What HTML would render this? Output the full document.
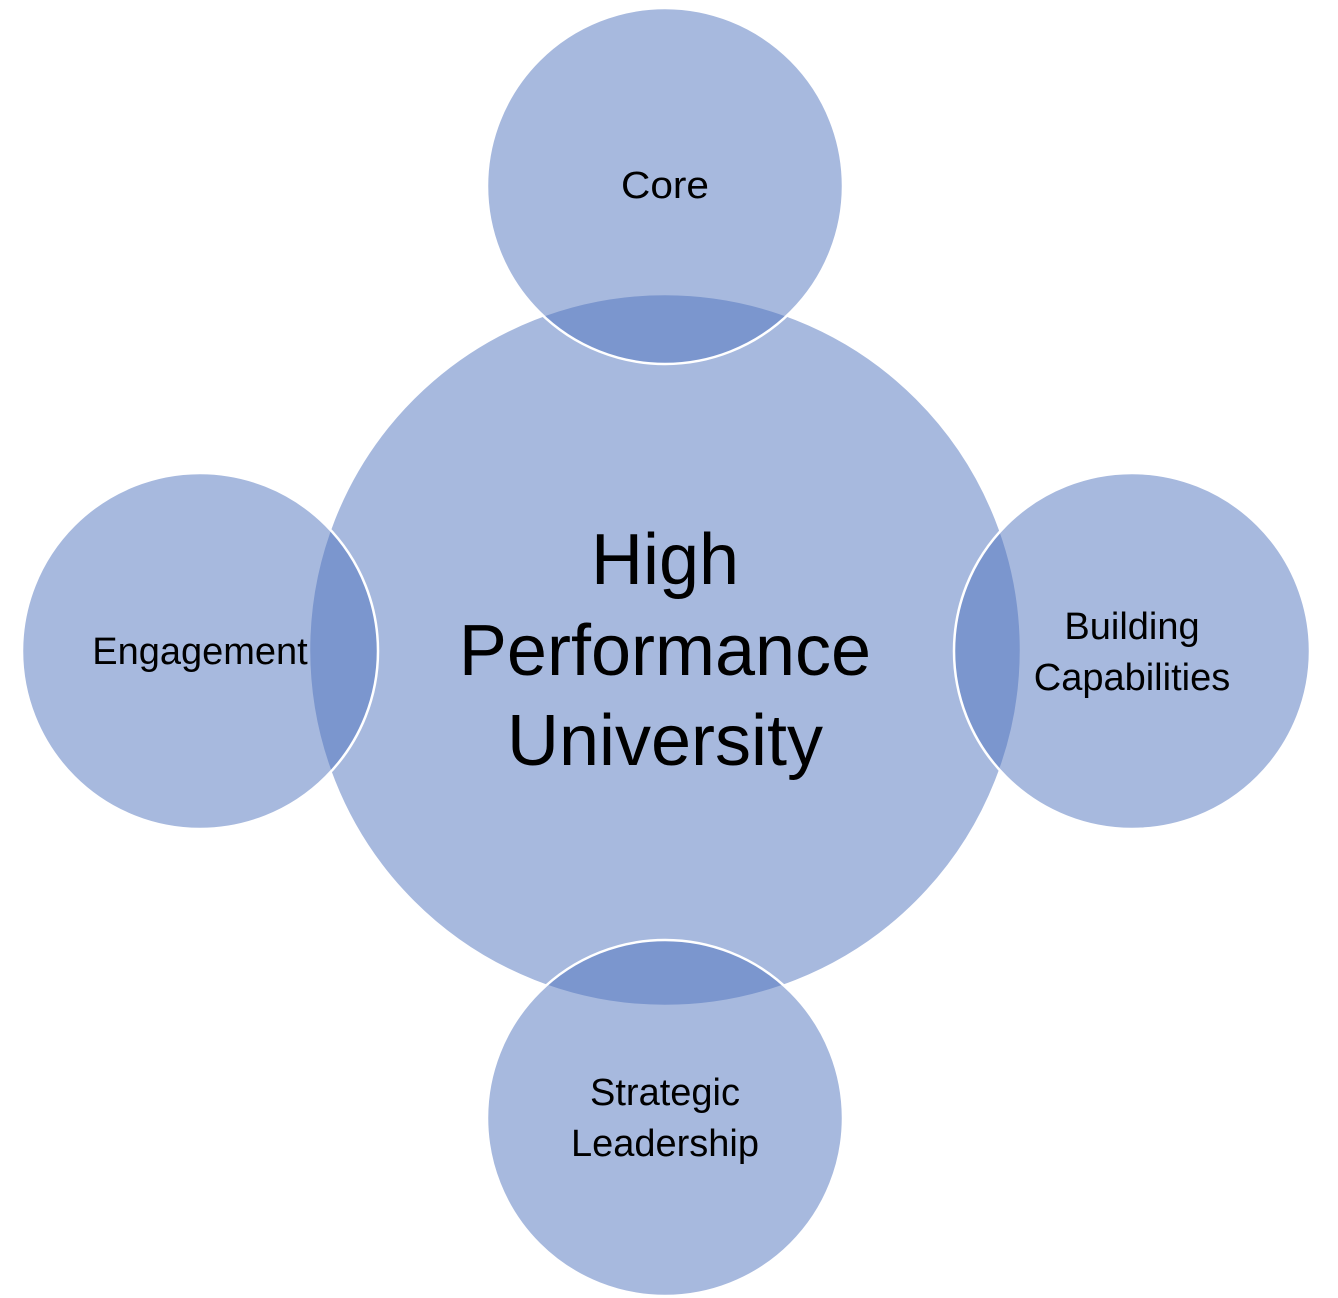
<!DOCTYPE html>
<html><head><meta charset="utf-8"><style>
html,body{margin:0;padding:0;background:#fff;}
svg{display:block;}
text{font-family:"Liberation Sans",sans-serif;fill:#000;text-anchor:middle;}
</style></head><body>
<svg width="1338" height="1298" viewBox="0 0 1338 1298">
<g fill="rgba(79,115,190,0.5)" stroke="#fff" stroke-width="2.5">
<circle cx="665" cy="650" r="356"/>
<circle cx="665" cy="186" r="178"/>
<circle cx="1132" cy="651" r="178"/>
<circle cx="665" cy="1118" r="178"/>
<circle cx="200" cy="651" r="178"/>
</g>
<text x="665" y="198" font-size="38" textLength="88" lengthAdjust="spacingAndGlyphs">Core</text>
<text x="1132" y="639" font-size="38">Building</text>
<text x="1132" y="690" font-size="38">Capabilities</text>
<text x="665" y="1105" font-size="38">Strategic</text>
<text x="665" y="1156" font-size="38">Leadership</text>
<text x="200" y="664" font-size="38">Engagement</text>
<text x="665" y="584" font-size="72">High</text>
<text x="665" y="675" font-size="72">Performance</text>
<text x="665" y="765" font-size="72">University</text>
</svg>
</body></html>
